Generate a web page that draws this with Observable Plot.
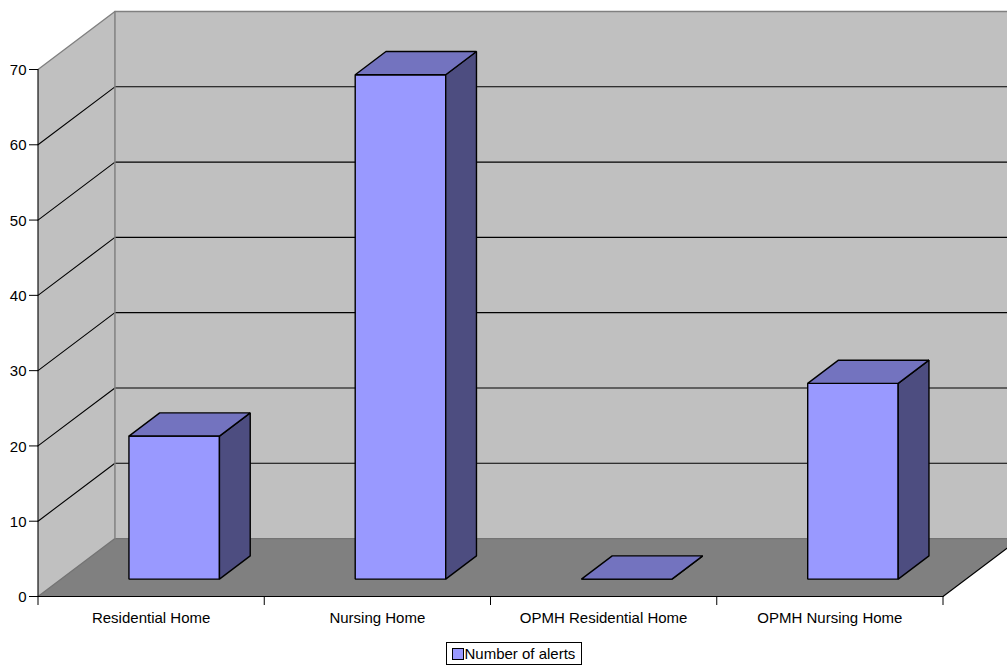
<!DOCTYPE html>
<html>
<head>
<meta charset="utf-8">
<script src="https://cdn.jsdelivr.net/npm/d3@7"></script>
<script src="https://cdn.jsdelivr.net/npm/@observablehq/plot@0.6"></script>
<style>
  html, body { margin: 0; padding: 0; background: #fff; overflow: hidden; }
  body { font-family: "Liberation Sans", Arial, sans-serif; color: #000; }
  #legend {
    box-sizing: border-box; margin: 2px 0 0 445.5px; width: 136.5px; height: 23px;
    border: 1px solid #000; display: flex; align-items: center; font-size: 15px;
    padding-left: 5px; white-space: nowrap;
  }
  #legend i {
    display: block; box-sizing: border-box; width: 12px; height: 12px; margin-right: 1px;
    background: #9999ff; border: 1.5px solid #000;
  }
</style>
</head>
<body>
<div id="chart"></div>
<div id="legend"><i></i><span>Number of alerts</span></div>
<script>
const categories = ["Residential Home", "Nursing Home", "OPMH Residential Home", "OPMH Nursing Home"];
const alerts = [19, 67, 0, 26];
const valueTicks = [0, 10, 20, 30, 40, 50, 60, 70];
const gridValues = [10, 20, 30, 40, 50, 60];
const categoryEdges = [0, 1, 2, 3, 4];

// Oblique projection: depth 0 is the front of the box, depth 1 the back wall.
const depthX = 0.34;   // in category units
const depthY = 7.7;    // in value units
const project = (cat, value, depth) => ({x: cat + depth * depthX, y: value + depth * depthY});

const barWidth = 0.4;
const depthNear = 0.3, depthFar = 0.7;
const valueTop = 70, catEnd = categories.length;

const poly = (id, corners) => corners.map(([c, v, d]) => ({id, ...project(c, v, d)}));

// Three visible faces of each bar
const frontFaces = [], topFaces = [], sideFaces = [];
alerts.forEach((v, i) => {
  const a = i + 0.5 - barWidth / 2, b = i + 0.5 + barWidth / 2;
  frontFaces.push(...poly(i, [[a, 0, depthNear], [b, 0, depthNear], [b, v, depthNear], [a, v, depthNear]]));
  topFaces.push(...poly(i, [[a, v, depthNear], [b, v, depthNear], [b, v, depthFar], [a, v, depthFar]]));
  sideFaces.push(...poly(i, [[b, 0, depthNear], [b, 0, depthFar], [b, v, depthFar], [b, v, depthNear]]));
});

const face = (data, fill, options = {}) =>
  Plot.line(data, {x: "x", y: "y", z: "id", fill, stroke: "#000", strokeWidth: 1.4,
                   strokeLinejoin: "miter", curve: "linear-closed", ...options});
const path = (corners, stroke, strokeWidth) =>
  Plot.line(corners.map(([c, v, d]) => project(c, v, d)), {x: "x", y: "y", stroke, strokeWidth});

const gridLines = gridValues.flatMap(v =>
  poly(v, [[0, v, 0], [0, v, 1], [catEnd, v, 1]]));

const chart = Plot.plot({
  width: 1007,
  height: 640,
  marginLeft: 38,
  marginRight: 64,
  marginTop: 69,
  marginBottom: 44,
  x: {domain: [0, catEnd], range: [37.5, 942.5]},
  y: {domain: [0, valueTop], range: [596, 69]},
  style: {fontFamily: "'Liberation Sans', Arial, sans-serif", fontSize: "15px", overflow: "hidden", color: "#000"},
  marks: [
    // walls and floor
    Plot.line(poly("side", [[0, 0, 0], [0, 0, 1], [0, valueTop, 1], [0, valueTop, 0]]),
      {x: "x", y: "y", fill: "#c0c0c0", curve: "linear-closed"}),
    Plot.line(poly("back", [[0, 0, 1], [catEnd, 0, 1], [catEnd, valueTop, 1], [0, valueTop, 1]]),
      {x: "x", y: "y", fill: "#c0c0c0", curve: "linear-closed"}),
    Plot.line(poly("floor", [[0, 0, 0], [catEnd, 0, 0], [catEnd, 0, 1], [0, 0, 1]]),
      {x: "x", y: "y", fill: "#808080", curve: "linear-closed"}),
    // gridlines
    Plot.line(gridLines, {x: "x", y: "y", z: "id", stroke: "#000", strokeWidth: 1.1}),
    // wall edges
    path([[0, 0, 0], [0, 0, 1], [catEnd, 0, 1]], "#737373", 1.3),
    path([[0, 0, 1], [0, valueTop, 1]], "#808080", 1.5),
    path([[0, valueTop, 0], [0, valueTop, 1], [catEnd, valueTop, 1]], "#808080", 1.4),
    path([[catEnd, 0, 0], [catEnd, 0, 1]], "#000", 1.1),
    path([[0, 0, 0], [0, valueTop, 0]], "#000", 1.1),
    path([[0, 0, 0], [catEnd, 0, 0]], "#000", 1.1),
    // bars
    face(frontFaces, "#9999ff"),
    face(sideFaces, "#4d4d80"),
    face(topFaces, "#7373bf"),
    // axes: tick marks and their labels are separate so the labels can sit a touch lower
    Plot.axisY({ticks: valueTicks, tickSize: 9, tickFormat: () => "", stroke: "#000", label: null}),
    Plot.axisY({ticks: valueTicks, tickSize: 0, tickPadding: 12, tickFormat: d => d, dy: 0.8, fill: "#000", label: null, fontSize: 15}),
    Plot.axisX({ticks: categoryEdges, tickSize: 9, tickFormat: () => "", stroke: "#000", label: null}),
    Plot.text(categories, {
      x: (d, i) => i + 0.5, y: 0, text: d => d, dy: 22,
      fontSize: 15, fill: "#000", textAnchor: "middle"
    })
  ]
});
document.getElementById("chart").append(chart);
</script>
</body>
</html>
